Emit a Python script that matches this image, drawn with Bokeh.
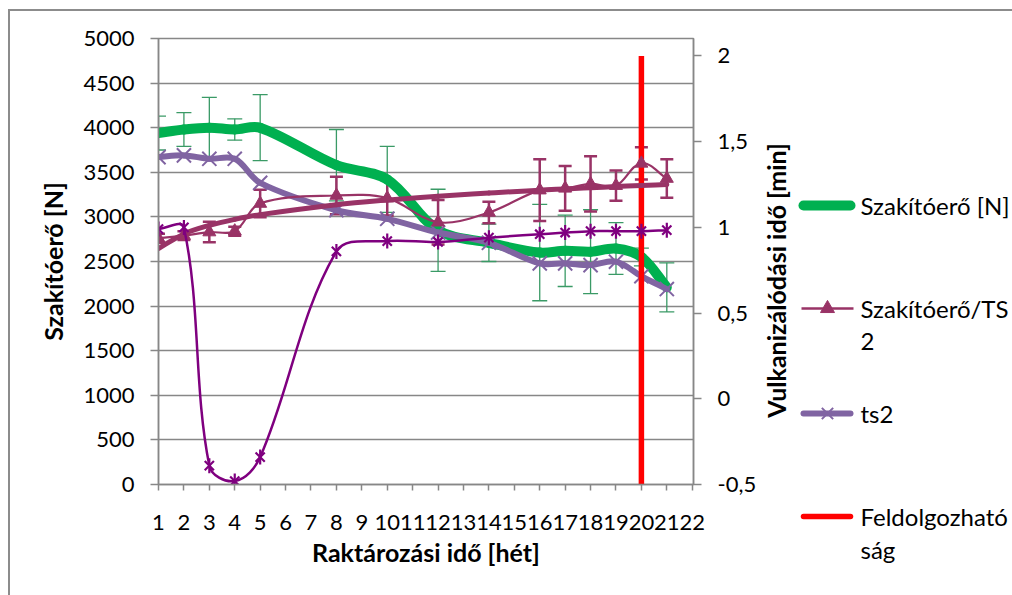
import math
import numpy as np
from bokeh.plotting import figure
from bokeh.layouts import row
from bokeh.models import (Range1d, LinearAxis, FixedTicker, ColumnDataSource, Whisker, TeeHead)
from bokeh.core.properties import value
from bokeh.embed import file_html
from bokeh.resources import INLINE

# ---------------- data ----------------
weeks = [1, 2, 3, 4, 5, 8, 10, 12, 14, 16, 17, 18, 19, 20, 21]
tick_weeks = list(range(1, 23))
tick_labels = [str(i) for i in tick_weeks]

force = [3940, 3980, 4000, 3980, 4000, 3580, 3420, 2850, 2710, 2600, 2620, 2610, 2645, 2550, 2210]
force_err = [190, 190, 340, 120, 370, 400, 370, 460, 210, 540, 400, 470, 290, 100, 275]

ratio = [2760, 2790, 2830, 2840, 3150, 3240, 3210, 2940, 3050, 3300, 3320, 3370, 3350, 3600, 3430]
ratio_err = [50, 50, 115, 50, 155, 210, 195, 250, 120, 345, 250, 310, 170, 180, 215]

ts2 = [1.41, 1.42, 1.40, 1.40, 1.26, 1.10, 1.05, 0.97, 0.91, 0.79, 0.79, 0.78, 0.80, 0.715, 0.64]

series4 = [0.99, 1.00, -0.39, -0.48, -0.34, 0.86, 0.92, 0.915, 0.94, 0.96, 0.97, 0.978, 0.978, 0.978, 0.984]

limit_week = [20, 20]
limit_val = [-0.5, 2.0]

y1_ticks = list(range(0, 5001, 500))
y2_ticks = [-0.5, 0, 0.5, 1, 1.5, 2]
y2_labels = ["-0,5", "0", "0,5", "1", "1,5", "2"]

x_title = "Raktározási idő [hét]"
y_title = "Szakítóerő [N]"
y2_title = "Vulkanizálódási idő [min]"
legend_names = ["Szakítóerő [N]", "Szakítóerő/TS", "ts2", "Feldolgozható"]
legend_wrap = ["", "2", "", "ság"]

# ---------------- styles ----------------
FONT = "Lato"
FS = "22px"
FS_TITLE = "25px"
FS_LEG = "24px"
GRAY = "#878787"
GREEN = "#00B050"
GREEN_ERR = "#3A9A66"
MAROON = "#993366"
LAVENDER = "#8064A2"
PURPLE = "#7F007F"
RED = "#FF0000"

XR = (1, 22.05)
Y1R = (0, 5000)
Y2R = (-0.5, 2.102)
FW, FH = 535, 446
BL, BT, BR, BB = 148, 27, 64, 111
TOTAL_W, TOTAL_H = 1002, 584


def smooth_source(xs, ys, yr, k=1.0 / 3.0):
    """Bezier control points for an Excel-like smoothed line (computed in pixel space)."""
    kx = FW / (XR[1] - XR[0])
    ky = FH / (yr[1] - yr[0])
    P = [(x * kx, y * ky) for x, y in zip(xs, ys)]
    n = len(P)

    def tangent(i):
        a = P[max(i - 1, 0)]
        b = P[min(i + 1, n - 1)]
        dx, dy = b[0] - a[0], b[1] - a[1]
        L = math.hypot(dx, dy) or 1.0
        return dx / L, dy / L

    T = [tangent(i) for i in range(n)]
    d = dict(x0=[], y0=[], x1=[], y1=[], cx0=[], cy0=[], cx1=[], cy1=[])
    for i in range(n - 1):
        L = math.hypot(P[i + 1][0] - P[i][0], P[i + 1][1] - P[i][1]) * k
        c0 = (P[i][0] + T[i][0] * L, P[i][1] + T[i][1] * L)
        c1 = (P[i + 1][0] - T[i + 1][0] * L, P[i + 1][1] - T[i + 1][1] * L)
        d["x0"].append(xs[i]); d["y0"].append(ys[i])
        d["x1"].append(xs[i + 1]); d["y1"].append(ys[i + 1])
        d["cx0"].append(c0[0] / kx); d["cy0"].append(c0[1] / ky)
        d["cx1"].append(c1[0] / kx); d["cy1"].append(c1[1] / ky)
    return ColumnDataSource(d)


def smooth_line(fig, xs, ys, yr, **kw):
    return fig.bezier(x0="x0", y0="y0", x1="x1", y1="y1", cx0="cx0", cy0="cy0",
                      cx1="cx1", cy1="cy1", source=smooth_source(xs, ys, yr), **kw)


p = figure(output_backend="svg", toolbar_location=None,
           x_range=Range1d(*XR), y_range=Range1d(*Y1R),
           frame_width=FW, frame_height=FH,
           min_border_left=BL, min_border_top=BT, min_border_right=BR, min_border_bottom=BB)
p.extra_y_ranges = {"y2": Range1d(*Y2R)}

p.background_fill_color = "white"
p.border_fill_color = "white"
p.outline_line_color = GRAY
p.outline_line_width = 1.5

xaxis = p.below[0]
yaxis = p.left[0]
xaxis.ticker = FixedTicker(ticks=tick_weeks)
xaxis.major_label_overrides = {w: l for w, l in zip(tick_weeks, tick_labels)}
yaxis.ticker = FixedTicker(ticks=y1_ticks)

y2axis = LinearAxis(y_range_name="y2", ticker=FixedTicker(ticks=y2_ticks),
                    major_label_overrides={t: l for t, l in zip(y2_ticks, y2_labels)})
p.add_layout(y2axis, "right")

xaxis.axis_label = x_title
yaxis.axis_label = y_title

for ax in [xaxis, yaxis, y2axis]:
    ax.axis_line_color = GRAY
    ax.axis_line_width = 1.5
    ax.major_tick_line_color = GRAY
    ax.major_tick_line_width = 1.5
    ax.major_tick_in = 0
    ax.major_tick_out = 8
    ax.minor_tick_line_color = None
    ax.major_label_text_font = FONT
    ax.major_label_text_font_size = FS
    ax.major_label_text_color = "black"
    ax.axis_label_text_font = FONT
    ax.axis_label_text_font_size = FS_TITLE
    ax.axis_label_text_font_style = "bold"
    ax.axis_label_text_color = "black"
    ax.major_label_standoff = 16

xaxis.major_tick_out = 6
xaxis.major_label_standoff = 24
xaxis.axis_label_standoff = 4
yaxis.axis_label_standoff = 12

p.xgrid.grid_line_color = None
p.ygrid.grid_line_color = GRAY
p.ygrid.grid_line_width = 1.5

# ---------------- series ----------------
fsrc = ColumnDataSource(dict(x=weeks, upper=[v + e for v, e in zip(force, force_err)],
                             lower=[v - e for v, e in zip(force, force_err)]))
p.add_layout(Whisker(base="x", upper="upper", lower="lower", source=fsrc, dimension="height",
                     line_color=GREEN_ERR, line_width=1.3,
                     upper_head=TeeHead(size=15, line_color=GREEN_ERR, line_width=1.3),
                     lower_head=TeeHead(size=15, line_color=GREEN_ERR, line_width=1.3)))
smooth_line(p, weeks, force, Y1R, line_color=GREEN, line_width=10, line_cap="round")

smooth_line(p, weeks, ts2, Y2R, line_color=LAVENDER, line_width=6, line_cap="round",
            y_range_name="y2")
p.scatter(weeks, ts2, marker="x", size=20, line_color=LAVENDER, line_width=2, y_range_name="y2")

p.line(limit_week, limit_val, line_color=RED, line_width=5.5, y_range_name="y2")

lx = np.log(np.array(weeks, dtype=float))
b, a = np.polyfit(lx, np.array(ratio, dtype=float), 1)
trend = [float(v) for v in (a + b * lx)]
smooth_line(p, weeks, trend, Y1R, line_color=MAROON, line_width=5, line_cap="round")

rsrc = ColumnDataSource(dict(x=weeks, upper=[v + e for v, e in zip(ratio, ratio_err)],
                             lower=[v - e for v, e in zip(ratio, ratio_err)]))
p.add_layout(Whisker(base="x", upper="upper", lower="lower", source=rsrc, dimension="height",
                     line_color=MAROON, line_width=2.5,
                     upper_head=TeeHead(size=13, line_color=MAROON, line_width=2.5),
                     lower_head=TeeHead(size=13, line_color=MAROON, line_width=2.5)))
smooth_line(p, weeks, ratio, Y1R, line_color=MAROON, line_width=2.2, line_cap="round")
p.scatter(weeks, ratio, marker="triangle", size=13, fill_color=MAROON, line_color=MAROON)

smooth_line(p, weeks, series4, Y2R, line_color=PURPLE, line_width=2.5, line_cap="round",
            y_range_name="y2")
p.scatter(weeks, series4, marker="x", size=13, line_color=PURPLE, line_width=2.2,
          y_range_name="y2")
p.scatter(weeks, series4, marker="dash", size=15, angle=math.pi / 2, line_color=PURPLE,
          line_width=2.2, y_range_name="y2")

# ---------------- right-hand panel: secondary axis title + legend ----------------
LW = TOTAL_W - (BL + FW + BR)
LH = TOTAL_H
pl = figure(output_backend="svg", toolbar_location=None, width=LW, height=LH,
            x_range=Range1d(0, LW), y_range=Range1d(LH, 0),
            x_axis_location=None, y_axis_location=None, min_border=0)
pl.frame_align = False
pl.outline_line_color = None
pl.grid.grid_line_color = None
pl.background_fill_color = "white"
pl.border_fill_color = "white"

# secondary axis title (reads bottom-to-top, like the reference)
pl.text(x=[16], y=[269], text=[y2_title], angle=math.pi / 2, text_align="center",
        text_baseline="middle", text_font=value(FONT), text_font_size=FS_TITLE,
        text_font_style="bold", text_color="black")

row_y = [194, 297, 402, 505]            # entry centres inside the panel
wrap_dy = 33                            # second text line offset
gx0, gx1, gmid, tx = 44, 91, 68, 101    # glyph start/end, marker centre, text start

pl.segment(x0=[gx0], y0=[row_y[0]], x1=[gx1], y1=[row_y[0]], line_color=GREEN,
           line_width=10, line_cap="round")
pl.segment(x0=[gx0 - 2], y0=[row_y[1]], x1=[gx1 + 3], y1=[row_y[1]], line_color=MAROON,
           line_width=2.5)
pl.scatter([gmid], [row_y[1]], marker="triangle", size=14, fill_color=MAROON, line_color=MAROON)
pl.segment(x0=[gx0], y0=[row_y[2]], x1=[gx1], y1=[row_y[2]], line_color=LAVENDER,
           line_width=6, line_cap="round")
pl.scatter([gmid], [row_y[2]], marker="x", size=16, line_color=LAVENDER, line_width=2)
pl.segment(x0=[gx0], y0=[row_y[3]], x1=[gx1], y1=[row_y[3]], line_color=RED,
           line_width=5.5, line_cap="round")

pl.text(x=[tx] * 4, y=row_y, text=legend_names, text_baseline="middle", text_align="left",
        text_font=value(FONT), text_font_size=FS_LEG, text_color="black")
wrap_rows = [(t, y + wrap_dy) for t, y in zip(legend_wrap, row_y) if t]
pl.text(x=[tx] * len(wrap_rows), y=[y for _, y in wrap_rows], text=[t for t, _ in wrap_rows],
        text_baseline="middle", text_align="left", text_font=value(FONT), text_font_size=FS_LEG,
        text_color="black")

layout = row(p, pl, spacing=0,
             styles={"margin-left": "8px", "margin-top": "9px",
                     "border-left": "2px solid #8c8c8c", "border-top": "2px solid #8c8c8c"})

open("out.html", "w").write(file_html(layout, INLINE))
